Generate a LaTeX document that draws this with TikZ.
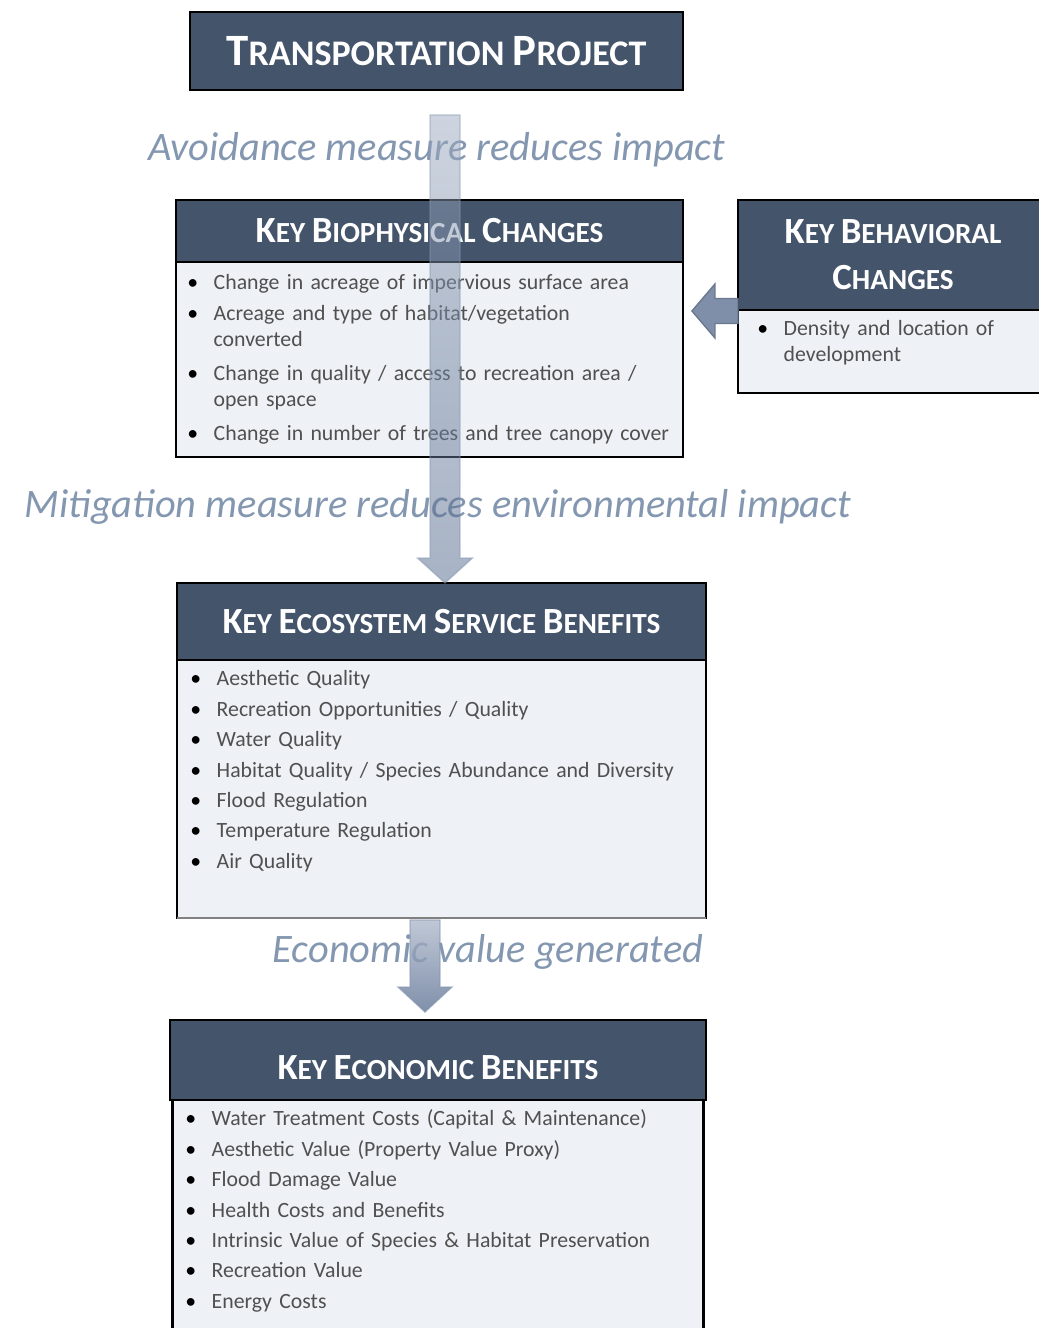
\documentclass[tikz,border=0pt]{standalone}
\usepackage{fontspec}
\setmainfont{Carlito}
\usepackage{tikz}
\usetikzlibrary{shapes,arrows,backgrounds,positioning,calc}
\definecolor{slate}{HTML}{44546A}
\definecolor{paleblue}{HTML}{EEF1F5}
\definecolor{steel}{HTML}{8497B0}
\definecolor{listgray}{HTML}{505050}
\definecolor{flowtop}{HTML}{9BA9BF}
\definecolor{flowbot}{HTML}{50668A}
\definecolor{valtop}{HTML}{B0BACC}
\definecolor{valbot}{HTML}{607495}
\definecolor{sidefill}{HTML}{7F8FA9}
\newcommand{\bigsc}[2]{{\fontsize{21}{24}\selectfont #1}{\fontsize{16.6}{20}\selectfont #2}}
\newcommand{\titlesc}[2]{{\fontsize{25.5}{28}\selectfont #1}{\fontsize{20.5}{24}\selectfont #2}}
\newcommand{\itm}[1]{\par\hangindent=15pt\hangafter=1\noindent\makebox[15pt][l]{\color{black}\textbullet}#1\par\vspace{2.6pt}}
\tikzstyle{titlebox}=[rectangle, fill=slate, draw=black, line width=1.6pt, outer sep=0pt, text=white, font=\bfseries\fontsize{20.5}{24}\selectfont]
\tikzstyle{hdrbox}=[rectangle, fill=slate, draw=black, line width=1.4pt, outer sep=0pt, text=white, font=\bfseries\fontsize{16.6}{20}\selectfont, align=center]
\tikzstyle{bodybox}=[rectangle, fill=paleblue, draw=black, line width=1.4pt, outer sep=0pt]
\tikzstyle{itemtxt}=[inner sep=0pt, anchor=base west, text=listgray, font=\fontsize{12.4}{14.7}\selectfont\raggedright]
\tikzstyle{flowlabel}=[font=\itshape\fontsize{23}{26}\selectfont, text=steel]
\tikzstyle{bigflow}=[top color=flowtop, bottom color=flowbot, fill opacity=0.5, draw=steel, draw opacity=0.5, line width=0.8pt]
\tikzstyle{valflow}=[top color=valtop, bottom color=valbot, fill opacity=0.8, draw=steel, draw opacity=0.6, line width=0.8pt]
\tikzstyle{sideflow}=[fill=sidefill, draw=steel!80!black, line width=0.8pt]

\begin{document}
\begin{tikzpicture}[x=0.02cm,y=-0.02cm]
\useasboundingbox (0,0) rectangle (1038,1328);

%Project
\node[titlebox, minimum width=9.86cm, minimum height=1.56cm] (proj) at (436.5,51)
  {\titlesc{T}{RANSPORTATION} \titlesc{P}{ROJECT}};

%Biophysical changes
\node[hdrbox, minimum width=10.14cm, minimum height=1.24cm] (bioH) at (429.5,231)
  {\bigsc{K}{EY} \bigsc{B}{IOPHYSICAL} \bigsc{C}{HANGES}};
\node[bodybox, minimum width=10.14cm, minimum height=3.9cm, below=0pt of bioH] (bioB) {};
\node[itemtxt, text width=9.7cm] (bioL) at (187,264)
  {\itm{Change in acreage of impervious surface area}%
   \itm{Acreage and type of habitat/vegetation\newline converted}\vspace{2.3pt}%
   \itm{Change in quality / access to recreation area /\newline open space}\vspace{2.3pt}%
   \itm{Change in number of trees and tree canopy cover}};

%Behavioral changes
\node[hdrbox, minimum width=6.2cm, minimum height=2.2cm] (behH) at (893,255)
  {\bigsc{K}{EY} \bigsc{B}{EHAVIORAL}\\[6pt] \bigsc{C}{HANGES}};
\node[bodybox, minimum width=6.2cm, minimum height=1.66cm, below=0pt of behH] (behB) {};
\node[itemtxt, text width=5cm] (behL) at (757,310)
  {\itm{Density and location of\newline development}};

%Ecosystem service benefits
\node[hdrbox, minimum width=10.58cm, minimum height=1.54cm] (ecoH) at (441.5,621.5)
  {\bigsc{K}{EY} \bigsc{E}{COSYSTEM} \bigsc{S}{ERVICE} \bigsc{B}{ENEFITS}};
\node[bodybox, minimum width=10.58cm, minimum height=5.16cm, below=0pt of ecoH] (ecoB) {};
\draw[black!50, line width=1.4pt] (ecoB.south west) -- (ecoB.south east);
\node[itemtxt, text width=10cm] (ecoL) at (190,660)
  {\itm{Aesthetic Quality}%
   \itm{Recreation Opportunities / Quality}%
   \itm{Water Quality}%
   \itm{Habitat Quality / Species Abundance and Diversity}%
   \itm{Flood Regulation}%
   \itm{Temperature Regulation}%
   \itm{Air Quality}};

%Economic benefits
\node[hdrbox, minimum width=10.72cm, minimum height=1.6cm] (ecnH) at (438,1060)
  {\raisebox{-11.3pt}[0pt][0pt]{\bigsc{K}{EY} \bigsc{E}{CONOMIC} \bigsc{B}{ENEFITS}}};
\node[bodybox, minimum width=10.62cm, minimum height=5cm, below=0pt of ecnH] (ecnB) {};
\node[itemtxt, text width=10cm] (ecnL) at (185,1100)
  {\itm{Water Treatment Costs (Capital \& Maintenance)}%
   \itm{Aesthetic Value (Property Value Proxy)}%
   \itm{Flood Damage Value}%
   \itm{Health Costs and Benefits}%
   \itm{Intrinsic Value of Species \& Habitat Preservation}%
   \itm{Recreation Value}%
   \itm{Energy Costs}};

%Labels
\node[flowlabel] (avoid) at (437,150) {Avoidance measure reduces impact};
\node[flowlabel] (mitig) at (438,507) {Mitigation measure reduces environmental impact};
\node[flowlabel] (value) at (488,952) {Economic value generated};

%Arrows
\coordinate (avTip) at ($(ecoH.north)+(3.5,0)$);
\coordinate (avTop) at ($(avTip |- proj.south)+(0,25)$);
\draw[bigflow] ($(avTop)+(-15,0)$) -- ($(avTop)+(15,0)$) -- ($(avTip)+(15,-25)$)
  -- ($(avTip)+(27.5,-25)$) -- (avTip) -- ($(avTip)+(-27.5,-25)$) -- ($(avTip)+(-15,-25)$) -- cycle;

\coordinate (vaTop) at ($(ecoB.south)+(-16.5,2)$);
\coordinate (vaTip) at ($(vaTop |- ecnH.north)+(0,-8)$);
\draw[valflow] ($(vaTop)+(-15,0)$) -- ($(vaTop)+(15,0)$) -- ($(vaTip)+(15,-25)$)
  -- ($(vaTip)+(27,-25)$) -- (vaTip) -- ($(vaTip)+(-27,-25)$) -- ($(vaTip)+(-15,-25)$) -- cycle;

\coordinate (bhTop) at ($(behB.north west)+(0,1)$);
\coordinate (bhTip) at ($(bioB.east |- bhTop)+(9,0)$);
\draw[sideflow] ($(bhTop)+(0,-12.5)$) -- ($(bhTip)+(23,-12.5)$) -- ($(bhTip)+(23,-27)$)
  -- (bhTip) -- ($(bhTip)+(23,27)$) -- ($(bhTip)+(23,12.5)$) -- ($(bhTop)+(0,12.5)$) -- cycle;

\end{tikzpicture}
\end{document}
